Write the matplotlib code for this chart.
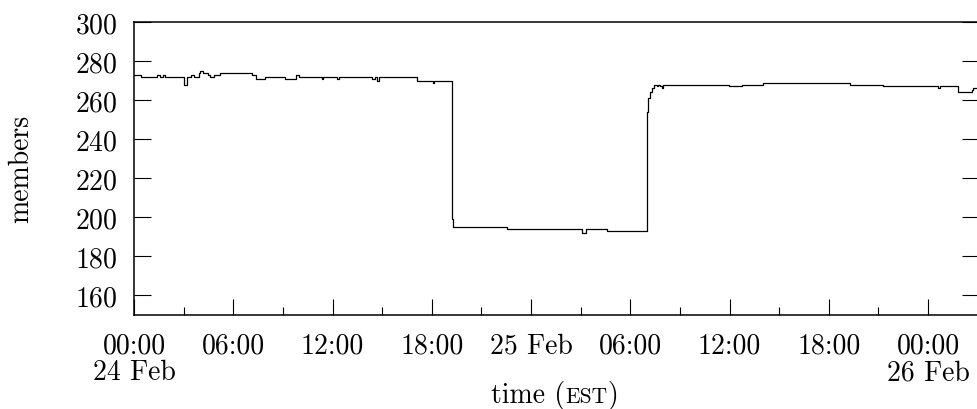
import matplotlib
matplotlib.use("Agg")
import matplotlib.pyplot as plt
from matplotlib.ticker import MultipleLocator
from matplotlib.offsetbox import TextArea, HPacker, AnnotationBbox

plt.rcParams["font.family"] = "cmr10"
plt.rcParams["axes.formatter.use_mathtext"] = True

# hours since 24 Feb 00:00 EST, member count holds until the next change
hours = [0.0, 0.4, 1.4, 1.55, 1.75, 1.9, 3.0, 3.2, 3.45, 3.6,
         3.9, 4.0, 4.15, 4.45, 4.6, 4.85, 5.2, 7.15, 7.4, 7.9,
         9.1, 9.8, 10.0, 11.35, 11.45, 12.3, 12.4, 14.4, 14.55, 14.7,
         14.8, 17.1, 18.05, 18.15, 19.2, 19.3, 22.53, 27.1, 27.3, 28.58,
         31.03, 31.1, 31.2, 31.3, 31.45, 31.6, 31.7, 31.8, 31.9, 31.97,
         35.99, 36.74, 38.05, 43.29, 45.3, 48.6, 48.7, 49.84, 50.65, 50.75,
         51.1]
members = [273, 272, 273, 272, 273, 272, 268, 272, 273, 272,
           274, 275, 274, 273, 272, 273, 274, 273, 271, 272,
           271, 273, 272, 271, 272, 271, 272, 271, 272, 270,
           272, 270, 269, 270, 199, 195, 194, 192, 194, 193,
           254, 261, 264, 266, 268, 267, 268, 267, 266, 268,
           267, 268, 269, 268, 267, 266, 267, 264, 265, 266,
           266]

tick_hours = [0, 6, 12, 18, 24, 30, 36, 42, 48]
tick_labels = ["00:00\n24 Feb", "06:00", "12:00", "18:00", "25 Feb",
               "06:00", "12:00", "18:00", "00:00\n26 Feb"]
y_ticks = [160, 180, 200, 220, 240, 260, 280, 300]

fig = plt.figure(figsize=(9.77, 4.10), dpi=100)
# right frame edge sits just past the image border, as in the original crop
ax = fig.add_axes([134 / 977, 1 - 316 / 410, (979 - 134) / 977, (316 - 23) / 410])
ax.plot(hours, members, drawstyle="steps-post", color="black", lw=0.9)
ax.set_xlim(0, (979 - 134) / (794 / 48))
ax.set_ylim(150, 300)

ax.set_xticks(tick_hours)
ax.set_xticklabels(tick_labels)
ax.xaxis.set_minor_locator(MultipleLocator(3))
ax.set_yticks(y_ticks)

ax.tick_params(axis="x", which="both", direction="in", top=False, bottom=True,
               labelsize=20, pad=12.5, width=0.8)
ax.tick_params(axis="x", which="major", length=11.5)
ax.tick_params(axis="x", which="minor", length=5.8)
ax.tick_params(axis="y", direction="in", left=True, right=True, length=12,
               width=0.8, labelsize=20, pad=12)
for lbl in ax.get_xticklabels():
    lbl.set_linespacing(1.0)
for sp in ax.spines.values():
    sp.set_linewidth(1.1)

fig.text(21 / 977, 1 - 169 / 410, "members", rotation=90, ha="center", va="center",
         fontsize=20)

# x label with fake small caps
parts = HPacker(children=[TextArea("time (", textprops=dict(fontsize=20)),
                          TextArea("EST", textprops=dict(fontsize=15.5)),
                          TextArea(")", textprops=dict(fontsize=20))],
                align="baseline", pad=0, sep=0)
ab = AnnotationBbox(parts, (555 / 977, 0.0), xycoords="figure fraction",
                    box_alignment=(0.5, 0.0), frameon=False, pad=0)
fig.add_artist(ab)

fig.savefig("out.png", dpi=100)
